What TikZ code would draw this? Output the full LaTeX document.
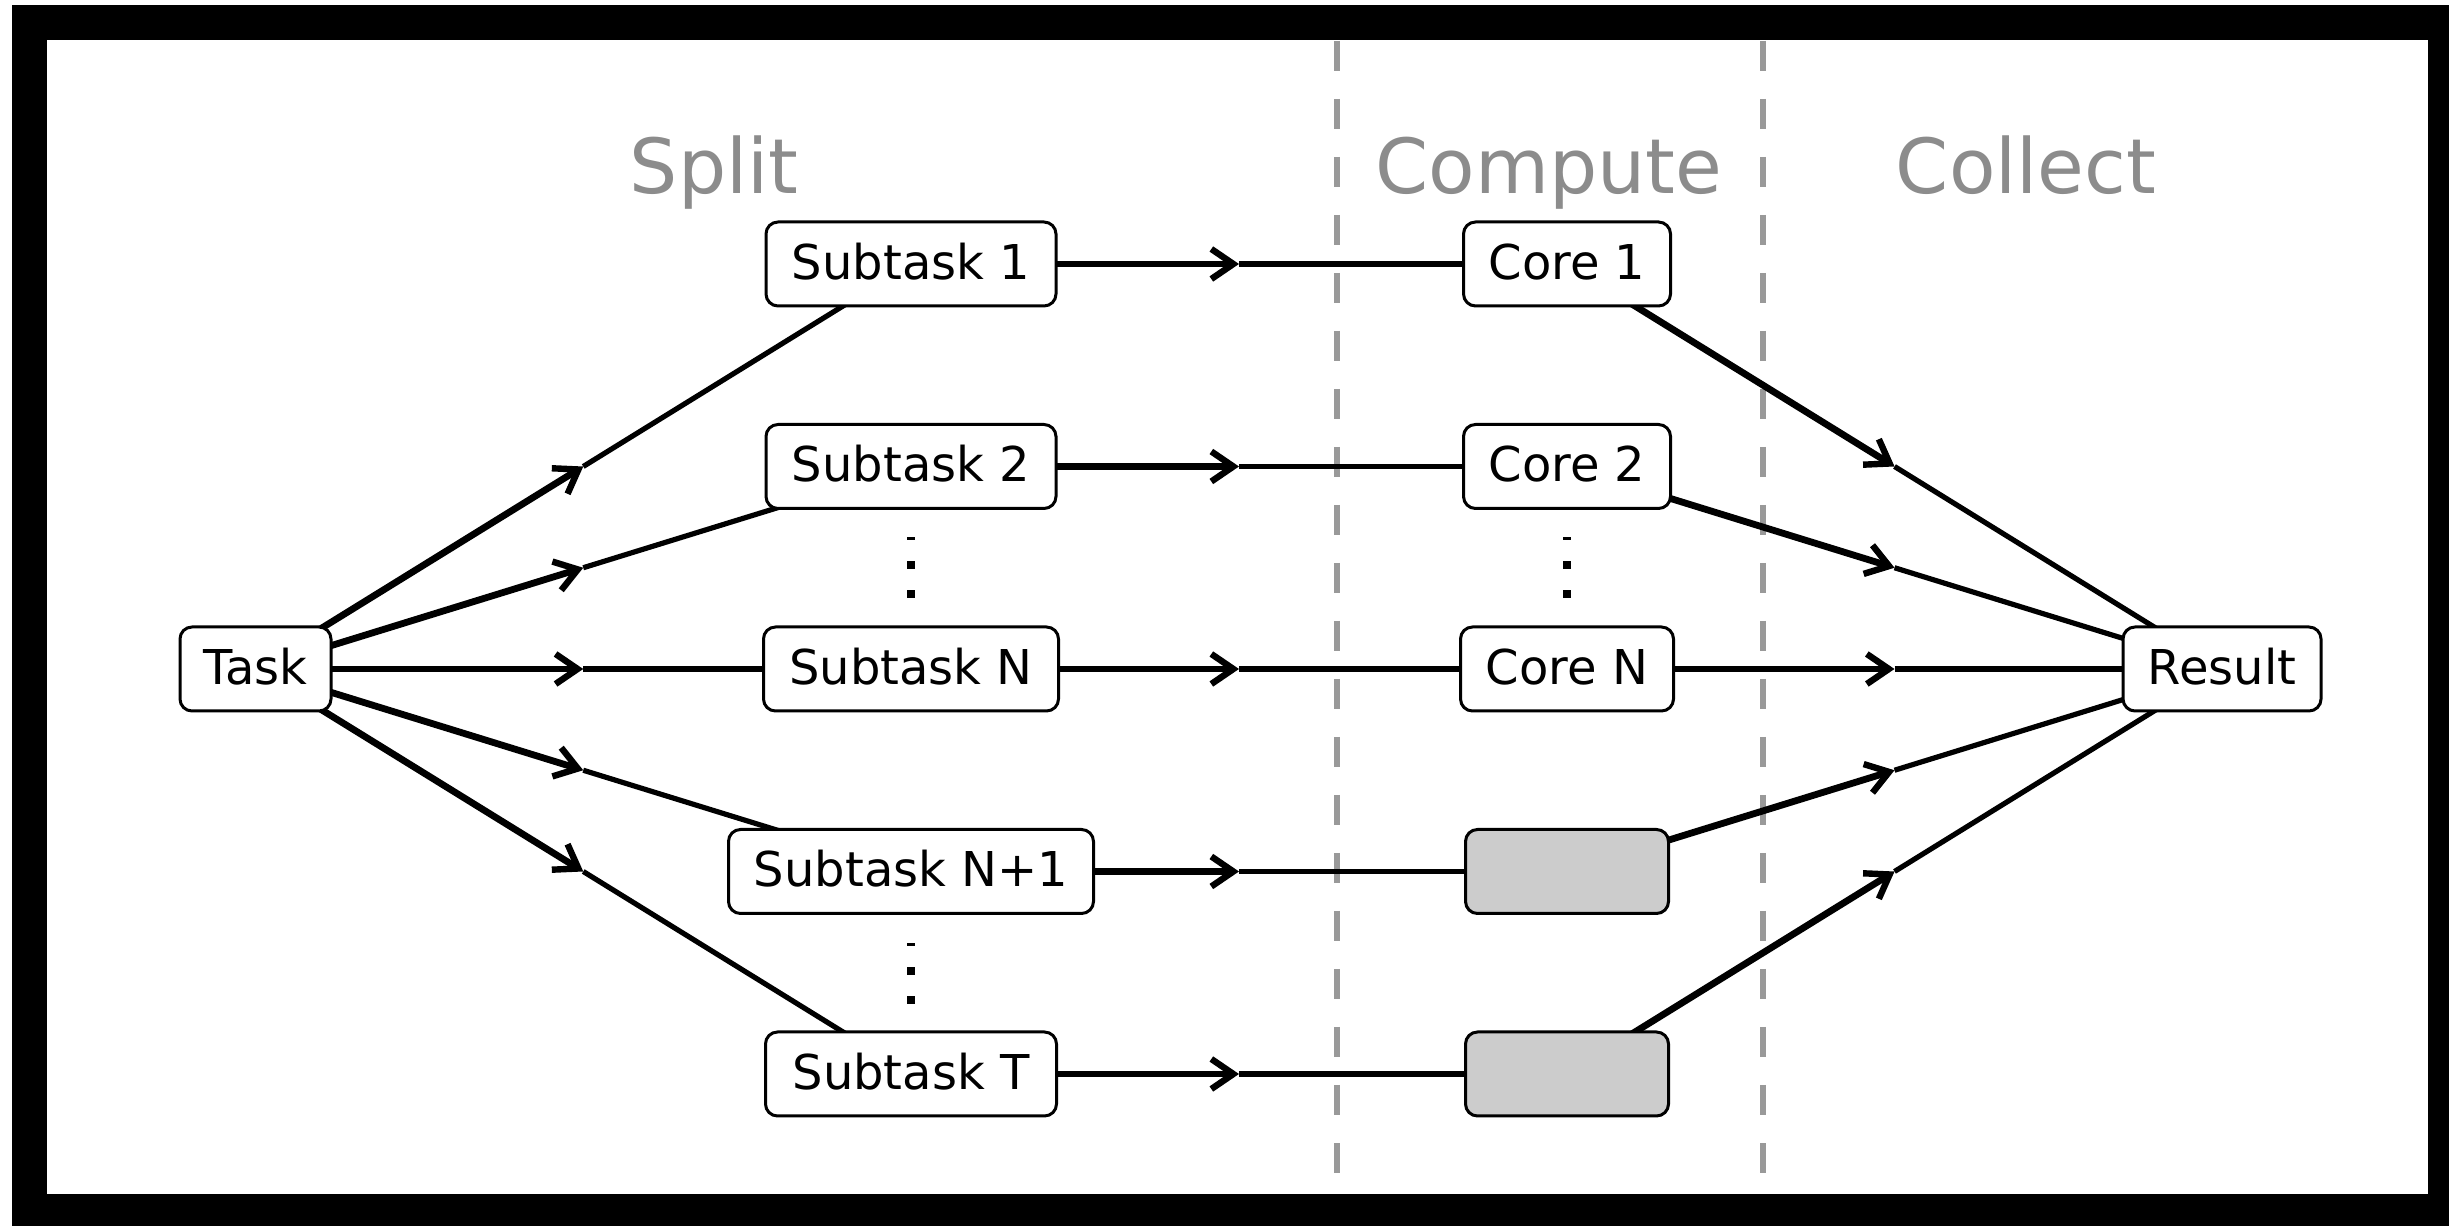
\documentclass[tikz,border=0pt]{standalone}
\usepackage{fontspec}
\setmainfont{DejaVu Sans}
\usetikzlibrary{arrows.meta,backgrounds,calc}
\begin{document}
\begin{tikzpicture}[x=0.25pt,y=-0.25pt,
  box/.style={draw=black,line width=0.75pt,rounded corners=3pt,fill=white,minimum height=21pt,inner xsep=4pt,inner ysep=0pt,text height=0.76em,text depth=0pt,font=\fontsize{12}{14}\selectfont},
  grey/.style={box,fill=black!20},
  phase/.style={text=black!45,font=\fontsize{19}{22}\selectfont,anchor=base},
  sep/.style={draw=black!40,line width=1.5pt,dash pattern=on 7.5pt off 7pt},
  firsthalf/.style={line width=1.7pt,-{Straight Barb[length=5.5pt,width=7.5pt,line width=1.6pt]}},
  secondhalf/.style={line width=1.3pt},
  dot/.style={fill=black}]
\useasboundingbox (0,0) rectangle (2449,1226);
% nodes
\node[box,minimum width=37.75pt] (task) at (255.5,669) {Task};
\node[box,minimum width=72.5pt]  (s1)  at (911,264)   {Subtask 1};
\node[box,minimum width=72.5pt]  (s2)  at (911,466.5) {Subtask 2};
\node[box,minimum width=73.75pt] (sn)  at (911,669)   {Subtask N};
\node[box,minimum width=91.25pt] (sn1) at (911,871.5) {Subtask N+1};
\node[box,minimum width=72.75pt] (st)  at (911,1074)  {Subtask T};
\node[box,minimum width=51.75pt] (c1)  at (1567,264)   {Core 1};
\node[box,minimum width=51.75pt] (c2)  at (1567,466.5) {Core 2};
\node[box,minimum width=53.25pt] (cn)  at (1567,669)   {Core N};
\node[grey,minimum width=50.75pt] (g1) at (1567,871.5) {};
\node[grey,minimum width=50.75pt] (g2) at (1567,1074)  {};
\node[box,minimum width=49.5pt]  (res) at (2222,669)   {Result};
% phase labels
\node[phase] (lsplit)   at (714,194)  {Split};
\node[phase] (lcompute) at (1549,194) {Compute};
\node[phase] (lcollect) at (2026,194) {Collect};
\begin{scope}[on background layer]
  \fill[black] (12,5) rectangle (2449,1226);
  \fill[white] (47,40) rectangle (2428,1194);
  \draw[sep] (1337,41) -- (1337,1194);
  \draw[sep] (1763,41) -- (1763,1194);
  \foreach \a/\b in {task/s1,task/s2,task/sn,task/sn1,task/st,s1/c1,s2/c2,sn/cn,sn1/g1,st/g2,c1/res,c2/res,cn/res,g1/res,g2/res}{
    \draw[firsthalf] (\a.center) -- ($(\a.center)!0.5!(\b.center)$);
    \draw[secondhalf] ($(\a.center)!0.5!(\b.center)$) -- (\b.center);
  }
\end{scope}
% vertical dots
\foreach \x/\y in {911/565,1567/565,911/971}{
  \fill[dot] (\x-4,\y-28) rectangle (\x+4,\y-25);
  \fill[dot] (\x-4,\y-4) rectangle (\x+4,\y+4);
  \fill[dot] (\x-4,\y+25) rectangle (\x+4,\y+33);
}
\end{tikzpicture}
\end{document}
